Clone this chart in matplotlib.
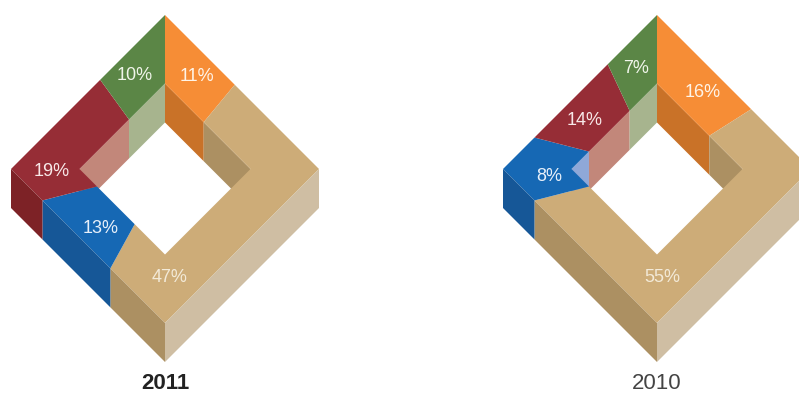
import numpy as np
import matplotlib
matplotlib.use('Agg')
import matplotlib.pyplot as plt
from matplotlib.patches import Polygon

years = ['2011', '2010']
categories = ['orange', 'tan', 'blue', 'red', 'green']
shares_2011 = [11, 47, 13, 19, 10]
shares_2010 = [16, 55, 8, 14, 7]

top_colors = ['#f68d36', '#cdac78', '#1668b4', '#962d36', '#5b8646']
dark_colors = ['#c97228', '#ac9062', '#165797', '#7d2226', '#4a6e39']
pale_colors = ['#fbc08c', '#cfbea3', '#8fa8d8', '#c2877a', '#a7b48e']

OUTER = 154
INNER = 85.5
DEPTH = 39
CY = 169


def rim_point(cx, half, turn):
    # turn is the fraction of a full circle, clockwise from the top corner
    a = 2 * np.pi * turn
    s, c = np.sin(a), np.cos(a)
    t = half / (abs(s) + abs(c))
    return np.array([cx + t * s, CY - t * c])


def rim_path(cx, half, start, end):
    # corners of the diamond sit on the quarter turns
    turns = [start]
    for q in [0.25, 0.5, 0.75]:
        if start < q < end:
            turns.append(q)
    turns.append(end)
    return turns, [rim_point(cx, half, t) for t in turns]


def shade(turn_mid, inner, i):
    # light falls differently on each of the four wall directions
    if inner:
        if turn_mid < 0.25:
            return dark_colors[i]
        if turn_mid > 0.75:
            return pale_colors[i]
        return None
    if 0.25 < turn_mid < 0.5:
        return pale_colors[i]
    if 0.5 < turn_mid < 0.75:
        return dark_colors[i]
    return None


def draw_walls(ax, cx, half, start, end, i, inner):
    turns, pts = rim_path(cx, half, start, end)
    for k in range(len(pts) - 1):
        col = shade((turns[k] + turns[k + 1]) / 2, inner, i)
        if col is None:
            continue
        p, q = pts[k], pts[k + 1]
        quad = [p, q, q + [0, DEPTH], p + [0, DEPTH]]
        ax.add_patch(Polygon(quad, closed=True, facecolor=col, edgecolor='none', zorder=1 if inner else 3))


def draw_ring(ax, cx, shares):
    edges = np.concatenate([[0], np.cumsum(shares)]) / 100.0
    for i in range(len(shares)):
        draw_walls(ax, cx, INNER, edges[i], edges[i + 1], i, True)
        draw_walls(ax, cx, OUTER, edges[i], edges[i + 1], i, False)
        outer = rim_path(cx, OUTER, edges[i], edges[i + 1])[1]
        inner = rim_path(cx, INNER, edges[i], edges[i + 1])[1]
        ax.add_patch(Polygon(outer + inner[::-1], closed=True, facecolor=top_colors[i],
                             edgecolor='none', zorder=2))


fig = plt.figure(figsize=(7.99, 3.94), dpi=100)
ax = fig.add_axes([0, 0, 1, 1])
ax.set_xlim(0, 799)
ax.set_ylim(394, 0)
ax.axis('off')

plt.rcParams['font.family'] = ['Liberation Sans', 'DejaVu Sans']

draw_ring(ax, 165, shares_2011)
draw_ring(ax, 657, shares_2010)

# percent labels, in the same order as the shares
spots_2011 = [(197, 76), (170, 277), (101, 228), (52, 171), (135, 75)]
spots_2010 = [(703, 92), (662, 277), (549, 176), (585, 120), (636, 68)]
text_colors = ['#fff4e8', '#f3ead8', '#e8f0fa', '#f8e8e8', '#f0f5ea']

for shares, spots in [(shares_2011, spots_2011), (shares_2010, spots_2010)]:
    for i in range(len(shares)):
        ax.text(spots[i][0], spots[i][1], '%d%%' % shares[i], color=text_colors[i], fontsize=13,
                ha='center', va='center', zorder=5)

ax.text(165, 389, years[0], color='#222222', fontsize=16, fontweight='bold', ha='center', va='baseline')
ax.text(657, 389, years[1], color='#444444', fontsize=16, ha='center', va='baseline')

plt.savefig('out.png', dpi=100)
